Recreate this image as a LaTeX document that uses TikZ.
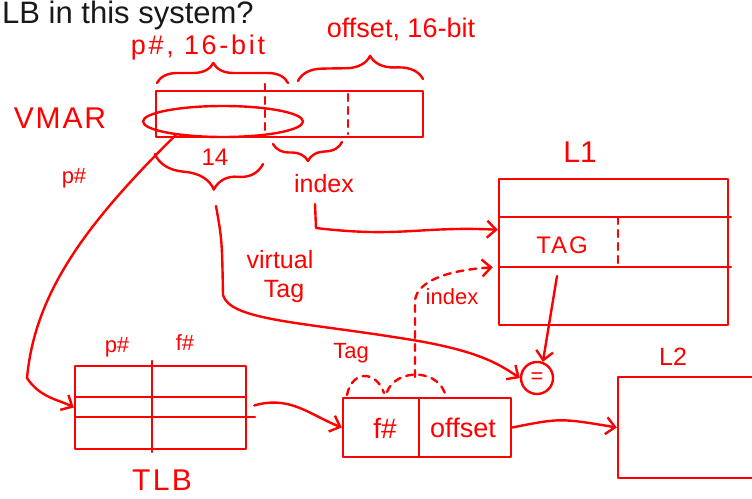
\documentclass[tikz,border=0pt]{standalone}
\usepackage{fontspec}
\setmainfont{Liberation Sans}
\usetikzlibrary{arrows.meta,positioning,calc,shapes.geometric,decorations.pathreplacing}
\definecolor{inkred}{RGB}{255,0,0}
\definecolor{slidegray}{RGB}{25,25,25}
\tikzset{ink/.style={draw=inkred, line width=2.4pt, line cap=round, line join=round},
  hand/.style={text=inkred, inner sep=0pt, font=\fontsize{#1}{#1}\selectfont}, hand/.default=22,
  cell/.style={rectangle, ink, inner sep=0pt},
  arrow/.style={ink, -{Straight Barb[length=9pt, width=17pt]}},
  dashline/.style={ink, dash pattern=on 7pt off 6pt},
  dasharrow/.style={arrow, dash pattern=on 7pt off 6pt},
  curly/.style={ink, decorate, decoration={brace, amplitude=#1}}}

\begin{document}
\begin{tikzpicture}[x=1pt, y=-1pt]
\fill[white] (0,0) rectangle (752,498);
\useasboundingbox (0,0) rectangle (752,498);
\node[anchor=base west, inner sep=0pt, text=slidegray, font=\fontsize{31}{31}\selectfont] (question) at (2,23) {LB in this system?};

% virtual address register
\node[cell, minimum width=267pt, minimum height=46pt] (vmar) at (289.5,114) {};
\node[hand=30] (vmarlbl) at (60,118) {\addfontfeature{LetterSpace=6}VMAR};
\draw[dashline] (265,84) -- (265,137);
\draw[dashline] (348,94) -- (348,134);
\node[ellipse, ink, minimum width=160pt, minimum height=31pt] (pgroup) at (223,121.5) {};

\draw[curly=20pt, decoration={aspect=0.43}] (157,83) -- (288,83);
\draw[curly=24pt, decoration={aspect=0.58}] (298,81) -- (423,79);
\draw[curly=30pt, decoration={mirror, aspect=0.57}] (155,154) -- (263,164);
\draw[curly=18pt, decoration={mirror, aspect=0.5}] (273,144) -- (342,142);
\node[hand=27] (pnum) at (198,48) {\addfontfeature{LetterSpace=10}p\#, 16-bit};
\node[hand=27] (offlbl) at (401,29) {offset, 16-bit};
\node[hand=24] (bits) at (215,157) {14};
\node[hand=25] (idx) at (324,184) {index};
\node[hand=22] (plbl) at (74,178) {p\#};
\node[hand=25] (vlbl) at (280,260) {virtual};
\node[hand=25] (vtaglbl) at (284,291) {Tag};

% L1 cache
\node[cell, minimum width=229pt, minimum height=146pt] (l1) at (613.5,252) {};
\node[hand=30] (l1lbl) at (580,152) {L1};
\draw[ink] (499,217) -- (731,217);
\draw[ink] (499,267) -- (731,267);
\draw[dashline] (618,217) -- (618,267);
\node[hand=24] (tag) at (562,245) {\addfontfeature{LetterSpace=8}TAG};
\node[circle, ink, minimum size=32pt, inner sep=0pt, hand=22] (eq) at (537,378) {=};

% TLB
\node[cell, minimum width=171pt, minimum height=83pt] (tlb) at (160.5,407.5) {};
\draw[ink] (152,361) -- (152,452);
\draw[ink] (75,397) -- (246,397);
\draw[ink] (75,417) -- (255,417);
\node[hand=22] (tlbp) at (117,347) {p\#};
\node[hand=22] (tlbf) at (185,343) {f\#};
\node[hand=30] (tlblbl) at (162,480) {\addfontfeature{LetterSpace=8}TLB};

% physical address
\node[cell, minimum width=168pt, minimum height=59pt] (paddr) at (427,427.5) {};
\draw[ink] (419,398) -- (419,457);
\node[hand=28] (fnum) at (385,428) {f\#};
\node[hand=27] (offs) at (463,428) {offset};
\node[hand=22] (taglbl) at (351,353) {Tag};
\draw[dashline] (347,395) .. controls (352,370) and (376,370) .. (384,393);
\draw[dashline] (387,392) .. controls (396,368) and (440,368) .. (446,397);
\node[hand=22] (idx2) at (452,297) {index};

% L2 cache
\node[cell, minimum width=150pt, minimum height=101pt] (l2) at (693,427.5) {};
\node[hand=25] (l2lbl) at (673,357) {L2};

% connectors
\coordinate (ptip) at (216,206);
\coordinate (idxfoot) at (315,204);
\coordinate (arctop) at (415,377);
\coordinate (tagfoot) at (557,276);
\draw[arrow] (pgroup.196) .. controls (90,220) and (35,290) .. (27,378) .. controls (40,398) and (60,400) .. (tlb.west);
\draw[arrow] (ptip) .. controls (222,240) .. (223,295) .. controls (230,320) and (300,322) .. (400,338) .. controls (480,350) and (500,365) .. (eq.west);
\draw[arrow] (idxfoot) -- (316,228) .. controls (400,238) and (420,226) .. ($(l1.north west)!0.35!(l1.south west)$);
\draw[dasharrow] (arctop) -- (415,300) .. controls (418,280) and (450,270) .. ($(l1.north west)!0.603!(l1.south west)+(-5,0)$);
\draw[arrow] (tagfoot) -- (eq.70);
\draw[arrow] ($(tlb.east)+(7,-2)$) .. controls (290,395) and (310,415) .. (paddr.west);
\draw[arrow] (paddr.east) .. controls (560,418) .. (l2.west);
\end{tikzpicture}
\end{document}
